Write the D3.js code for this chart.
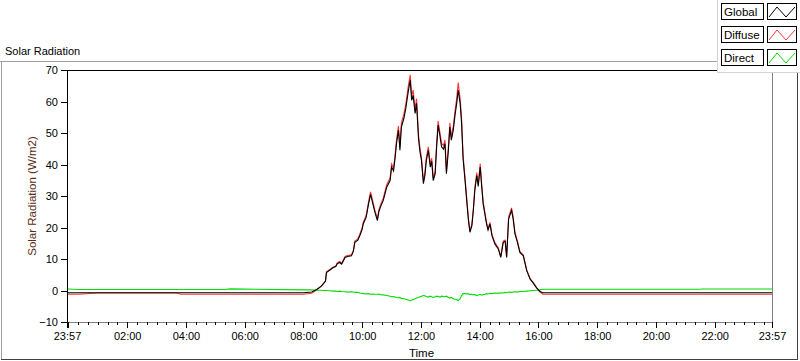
<!DOCTYPE html>
<html><head><meta charset="utf-8">
<script src="https://cdn.jsdelivr.net/npm/d3@7"></script>
<style>
html,body{margin:0;padding:0;background:#fff;}
svg{display:block;font-family:"Liberation Sans",Arial,sans-serif;}
</style></head>
<body>
<script>
// ---- DATA ----
const chartTitle = "Solar Radiation";
const yTitle = "Solar Radiation (W/m2)";
const xTitle = "Time";
const seriesNames = ["Global", "Diffuse", "Direct"];
const seriesColors = ["#000000", "#ff3535", "#00dd00"];
const yTicks = [-10, 0, 10, 20, 30, 40, 50, 60, 70];
const xTickLabels = ["23:57","00:00","02:00","04:00","06:00","08:00","10:00","12:00","14:00","16:00","18:00","20:00","22:00","23:57"];

const times = ["23:57","00:20","01:00","03:40","03:50","05:20","05:30","08:00",
"08:17","08:27","08:36","08:41","08:45","08:47","08:54","09:01","09:06","09:09","09:14","09:18","09:25","09:30","09:38","09:42","09:45","09:51","09:55",
"10:00","10:02","10:08","10:13","10:17","10:21","10:26","10:31","10:34","10:37","10:43","10:50","10:57",
"11:00","11:04","11:07","11:10","11:14","11:17","11:20","11:25","11:29","11:34","11:38","11:41","11:44","11:48","11:51","11:55","11:58",
"12:01","12:05","12:08","12:11","12:15","12:19","12:22","12:25","12:29","12:32","12:35","12:39","12:42","12:46","12:49","12:52","12:56","12:59",
"13:02","13:06","13:10","13:13","13:16","13:20","13:23","13:26","13:30","13:34","13:37","13:40","13:44","13:47","13:50","13:54","13:57",
"14:01","14:04","14:07","14:11","14:14","14:17","14:21","14:25","14:31","14:38","14:43","14:48","14:52","14:55","14:59",
"15:05","15:08","15:12","15:17","15:22","15:29","15:36","15:43","15:49","15:56",
"16:03","16:09","17:00","21:30","21:35","23:57"];

const globalRad = [-0.7,-0.7,-0.7,-0.7,-0.7,-0.7,-0.7,-0.7,
-0.5,0.3,1.3,2.2,3.0,5.7,6.5,7.3,7.6,8.5,8.9,8.4,10.5,10.8,11.0,12.5,15.3,16.0,17.4,
19.5,21.1,23.2,27.5,30.5,28.0,24.8,22.2,25.0,26.4,28.6,32.8,34.9,
39.2,38.0,41.9,46.6,50.9,44.5,51.9,54.6,57.8,63.1,66.8,60.4,62.0,56.2,59.4,48.2,44.0,
41.3,33.9,36.5,41.3,44.5,39.2,41.0,34.9,37.0,45.6,52.5,48.8,45.6,44.9,46.6,37.1,44.5,51.9,
47.7,50.9,56.2,59.4,63.6,59.4,53.0,41.9,34.9,27.5,22.2,18.5,20.6,25.4,31.8,36.5,33.0,
39.2,33.0,27.5,23.8,21.1,19.2,21.1,17.4,14.8,13.2,10.5,15.3,15.6,10.5,22.7,
25.4,23.0,18.0,15.3,12.1,11.0,6.3,3.6,2.5,0.9,
-0.3,-0.7,-0.7,-0.7,-0.7,-0.7];

const diffuseRad = [-1.2,-1.2,-0.8,-0.8,-1.2,-1.2,-1.2,-1.2,
-0.9,0.2,1.4,2.3,3.1,5.9,6.7,7.5,7.8,8.8,9.2,8.6,10.8,11.1,11.3,12.8,15.7,16.4,17.8,
20.0,21.6,23.8,28.2,31.3,28.7,25.4,22.8,25.6,27.1,29.3,33.6,35.8,
40.2,38.9,42.9,47.8,52.2,45.6,53.2,56.0,59.2,64.7,68.5,61.9,63.6,57.6,60.9,49.4,45.1,
42.3,34.7,37.4,42.3,45.6,40.2,42.0,35.8,37.9,46.7,53.8,50.0,46.7,46.0,47.8,38.0,45.6,53.2,
48.9,52.2,57.6,60.9,66.0,60.9,54.3,42.9,35.8,28.2,22.8,19.0,21.1,26.0,32.6,37.4,33.8,
40.3,33.8,28.2,24.4,21.6,19.7,21.6,17.8,15.2,13.5,10.8,15.7,16.0,10.8,23.3,
26.2,23.6,18.5,15.7,12.4,11.3,6.5,3.7,2.5,0.8,
-0.5,-1.2,-1.2,-1.2,-1.2,-1.2];

const directRad = [0.5,0.3,0.3,0.3,0.3,0.3,0.5,0.2,
0.2,0.1,0.1,0.0,0.0,0.0,-0.1,-0.2,-0.2,-0.3,-0.2,-0.3,-0.4,-0.5,-0.4,-0.5,-0.6,-0.6,-0.8,
-0.9,-1.0,-1.1,-1.0,-1.2,-1.1,-1.2,-1.2,-1.1,-1.3,-1.4,-1.6,-1.8,
-2.0,-1.9,-2.1,-2.2,-2.3,-2.2,-2.5,-2.6,-2.8,-3.0,-3.3,-3.0,-2.9,-2.6,-2.4,-2.2,-2.0,
-1.8,-1.6,-1.7,-1.9,-2.1,-1.8,-2.0,-2.2,-2.0,-1.8,-1.9,-2.1,-1.8,-1.9,-2.0,-1.8,-2.2,-2.4,
-2.2,-2.6,-2.8,-2.9,-3.2,-2.6,-1.6,-1.0,-1.0,-1.1,-1.0,-1.3,-1.2,-1.4,-1.3,-1.6,-1.4,
-1.2,-1.5,-1.3,-1.2,-1.0,-1.1,-0.9,-1.0,-0.8,-0.9,-0.7,-0.8,-0.6,-0.7,-0.5,
-0.6,-0.5,-0.4,-0.5,-0.3,-0.3,-0.2,-0.1,0.0,0.1,
0.2,0.4,0.4,0.4,0.5,0.5];

// ---- CHART ----
const W = 800, H = 361;
const plot = {left: 67, top: 70, right: 772, bottom: 322};

// convert HH:MM strings to a running minute count (handles day rollover)
function toMinutes(list) {
  let off = 0, prev = -Infinity;
  return list.map(s => {
    const [h, m] = s.split(":").map(Number);
    let v = h * 60 + m + off;
    if (v < prev) { off += 1440; v += 1440; }
    prev = v;
    return v;
  });
}
const mins = toMinutes(times);
const xTickMins = toMinutes(xTickLabels);

const x = d3.scaleLinear().domain([mins[0], mins[mins.length - 1]]).range([plot.left, plot.right]);
const y = d3.scaleLinear().domain([-10, 70]).range([plot.bottom, plot.top]);

const svg = d3.select("body").append("svg").attr("width", W).attr("height", H);
svg.append("rect").attr("width", W).attr("height", H).attr("fill", "#fff");

// outer frame
const frame = svg.append("g").attr("shape-rendering", "crispEdges");
frame.append("line").attr("x1", 0).attr("x2", 717).attr("y1", 61.5).attr("y2", 61.5).attr("stroke", "#a0a0a0");
frame.append("line").attr("x1", 1.5).attr("x2", 1.5).attr("y1", 61).attr("y2", 360).attr("stroke", "#a0a0a0");
frame.append("line").attr("x1", 1).attr("x2", 798).attr("y1", 359.5).attr("y2", 359.5).attr("stroke", "#404040");
frame.append("line").attr("x1", 797.5).attr("x2", 797.5).attr("y1", 73).attr("y2", 360).attr("stroke", "#404040");

svg.append("text").attr("x", 5).attr("y", 55).attr("font-size", 11).attr("fill", "#000").text(chartTitle);

// clip
svg.append("clipPath").attr("id", "clip").append("rect")
  .attr("x", plot.left + 1).attr("y", plot.top + 1)
  .attr("width", plot.right - plot.left - 1).attr("height", plot.bottom - plot.top - 1);

// lines (red first, then green, then black on top)
const series = [
  {name: "Diffuse", vals: diffuseRad, color: seriesColors[1]},
  {name: "Direct", vals: directRad, color: seriesColors[2]},
  {name: "Global", vals: globalRad, color: seriesColors[0]}
];
const line = d3.line().x(d => x(d[0])).y(d => y(d[1]));
const lg = svg.append("g").attr("clip-path", "url(#clip)");
series.forEach(s => {
  lg.append("path").datum(mins.map((m, i) => [m, s.vals[i]]))
    .attr("d", line).attr("fill", "none").attr("stroke", s.color).attr("stroke-width", 1.1);
});

// plot border
const pb = svg.append("g").attr("shape-rendering", "crispEdges");
pb.append("line").attr("x1", plot.left).attr("x2", 717).attr("y1", plot.top + 0.5).attr("y2", plot.top + 0.5).attr("stroke", "#000");
pb.append("line").attr("x1", plot.left + 0.5).attr("x2", plot.left + 0.5).attr("y1", plot.top).attr("y2", plot.bottom + 1).attr("stroke", "#000");
pb.append("line").attr("x1", plot.left).attr("x2", plot.right + 1).attr("y1", plot.bottom + 0.5).attr("y2", plot.bottom + 0.5).attr("stroke", "#808080");
pb.append("line").attr("x1", plot.right + 0.5).attr("x2", plot.right + 0.5).attr("y1", 73).attr("y2", plot.bottom + 1).attr("stroke", "#808080");

// y axis
const yAxis = svg.append("g").attr("transform", `translate(${plot.left},0)`)
  .call(d3.axisLeft(y).tickValues(yTicks).tickSize(6).tickSizeOuter(0).tickPadding(3).tickFormat(d3.format("d")));
yAxis.select(".domain").remove();
yAxis.selectAll("line").attr("stroke", "#000").attr("shape-rendering", "crispEdges");
yAxis.selectAll("text").attr("font-size", 11).attr("font-family", "Liberation Sans, Arial, sans-serif").attr("fill", "#000");

svg.append("text").attr("transform", `translate(36,${(plot.top + plot.bottom) / 2}) rotate(-90)`)
  .attr("text-anchor", "middle").attr("font-size", 11.5).attr("fill", "#5a2a14").text(yTitle);

// x axis: minor ticks every 20 min, major every 2 h
const minorTicks = d3.range(xTickMins[1], x.domain()[1], 20).filter(m => (m - xTickMins[1]) % 120 !== 0);
const xg = svg.append("g").attr("transform", `translate(0,${plot.bottom})`);
xg.append("g").call(d3.axisBottom(x).tickValues(minorTicks).tickSize(3).tickFormat(""))
  .call(g => g.select(".domain").remove())
  .selectAll("line").attr("stroke", "#000").attr("shape-rendering", "crispEdges");
const fmt = d3.scaleOrdinal().domain(xTickMins).range(xTickLabels);
const xMajor = xg.append("g").call(d3.axisBottom(x).tickValues(xTickMins).tickSize(6).tickPadding(4)
  .tickFormat((d, i) => (xTickLabels[i] === "00:00" ? "" : xTickLabels[i])));
xMajor.select(".domain").remove();
xMajor.selectAll("line").attr("stroke", "#000").attr("shape-rendering", "crispEdges");
xMajor.selectAll("text").attr("font-size", 11).attr("font-family", "Liberation Sans, Arial, sans-serif").attr("fill", "#000");

svg.append("text").attr("x", (plot.left + plot.right) / 2 + 2).attr("y", 357)
  .attr("text-anchor", "middle").attr("font-size", 11.5).attr("fill", "#000").text(xTitle);

// legend
const leg = svg.append("g").attr("shape-rendering", "crispEdges");
leg.append("rect").attr("x", 717).attr("y", 0).attr("width", 83).attr("height", 73).attr("fill", "#fff");
leg.append("line").attr("x1", 717.5).attr("x2", 717.5).attr("y1", 0).attr("y2", 73).attr("stroke", "#d4d4d4");
leg.append("line").attr("x1", 717).attr("x2", 800).attr("y1", 72.5).attr("y2", 72.5).attr("stroke", "#d4d4d4");
const rowsY = [3, 26, 49];
seriesNames.forEach((n, i) => {
  const y0 = rowsY[i];
  leg.append("rect").attr("x", 721.5).attr("y", y0 + 0.5).attr("width", 42).attr("height", 16)
    .attr("fill", "#fff").attr("stroke", "#000");
  leg.append("rect").attr("x", 767.5).attr("y", y0 + 0.5).attr("width", 29).attr("height", 16)
    .attr("fill", "#fff").attr("stroke", "#000");
  svg.append("text").attr("x", 724).attr("y", y0 + 13).attr("font-size", 11.5).attr("fill", "#000").text(n);
  svg.append("path").attr("d", `M769,${y0 + 14}L777,${y0 + 4}L786,${y0 + 14}L795,${y0 + 4}`)
    .attr("fill", "none").attr("stroke", seriesColors[i]).attr("stroke-width", 1);
});
</script>
</body></html>
